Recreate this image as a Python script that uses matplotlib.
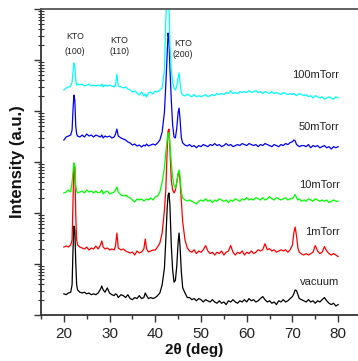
import numpy as np
import matplotlib
matplotlib.use('Agg')
import matplotlib.pyplot as plt
from matplotlib.ticker import LogLocator, NullFormatter, MultipleLocator

plt.rcParams['font.family'] = ['Liberation Sans', 'DejaVu Sans']

# 2theta grid (deg)
two_theta = [20.0, 20.5, 21.0, 21.5, 21.8, 22.0, 22.2, 22.4, 22.6, 22.8, 23.0, 23.5,
             24.0, 24.5, 25.0, 25.5, 26.0, 26.5, 27.0, 27.5, 28.0, 28.3, 28.6, 29.0, 29.5, 30.0,
             30.5, 31.0, 31.3, 31.6, 31.9, 32.5,
             33.0, 33.5, 34.0, 34.5, 35.0, 35.5, 36.0, 36.5, 37.0, 37.5, 37.8, 38.1, 38.5, 39.0,
             39.5, 40.0, 40.5,
             41.0, 41.5, 42.0, 42.3, 42.6, 42.8, 43.0, 43.2, 43.5, 43.8, 44.1, 44.4, 44.7, 45.0,
             45.2, 45.4, 45.7, 46.0, 46.5, 47.0,
             47.5, 48.0, 48.5, 49.0, 49.5, 50.0, 50.5, 51.0, 51.5, 52.0, 52.5, 53.0, 53.5, 54.0,
             54.5, 55.0, 55.5, 56.0, 56.5, 57.0, 57.5, 58.0, 58.5, 59.0, 59.5, 60.0, 60.5, 61.0,
             61.5, 62.0, 62.5, 63.0, 63.5, 64.0, 64.5, 65.0, 65.5, 66.0, 66.5, 67.0, 67.5, 68.0,
             68.5, 69.0, 69.5,
             70.0, 70.3, 70.6, 70.9, 71.2, 71.5, 72.0,
             72.5, 73.0, 73.5, 74.0, 74.5, 75.0, 75.5, 76.0, 76.5, 77.0, 77.5, 78.0, 78.5, 79.0,
             79.5, 80.0]

# intensities (counts, before stacking)
vacuum = [26, 25, 27, 28, 39, 188, 556, 464, 109, 39, 31, 28,
          27, 28, 26, 27, 25, 26, 25, 27, 32, 37, 31, 28, 34, 27, 25, 24, 26, 25, 22, 25,
          24, 22, 25, 21, 20, 22, 21, 24, 21, 22, 27, 24, 21, 22, 21, 22, 24,
          27, 39, 83, 294, 1260, 2250, 2470, 1430, 235, 76, 44, 48, 91, 270, 405, 235, 70, 34, 27, 22,
          22, 20, 21, 19, 21, 20, 18, 20, 19, 18, 20, 18, 17, 19, 17, 18, 16, 19, 18, 20,
          18, 17, 19, 18, 20, 18, 21, 19, 20, 18, 19, 21, 23, 20, 18, 19, 17, 18, 16, 19,
          18, 20, 18, 19, 21,
          23, 26, 31, 30, 25, 21, 20,
          19, 18, 20, 18, 19, 17, 19, 18, 20, 22, 19, 17, 16, 17, 15, 16]

p1mtorr = [21.5, 22.5, 21.5, 23.6, 29.6, 180, 950, 800, 91, 29.6, 23.6, 21.5,
           20.6, 19.7, 21.5, 18.8, 20.6, 19.7, 22.5, 19.7, 23.6, 28.3, 21.5, 19.7, 20.6, 18.8,
           19.7, 18.8, 22.5, 40.5, 20.6, 18.8,
           19.7, 18.0, 17.2, 16.4, 17.2, 15.0, 18.0, 16.4, 17.2, 19.7, 30.9, 19.7, 17.2, 18.0,
           18.8, 18.8, 21.5,
           25.8, 40.5, 114, 282, 1717, 4050, 4420, 1870, 444, 282, 247, 282, 405, 580, 637, 444,
           165, 66, 29.6, 20.6,
           18, 17, 19, 16, 18, 17, 19, 23, 18, 16, 17, 15, 17, 16, 18, 15, 17, 18, 23, 17,
           15, 17, 16, 18, 15, 17, 16, 18, 16, 17, 19, 18, 19, 25, 19, 20, 18, 19, 17, 18,
           19, 18, 19, 17, 19,
           23.6, 40.5, 53, 35, 20.6, 17, 15.7,
           15, 16, 15, 16, 17, 23, 18, 16, 17, 22, 18, 16, 15, 16, 15, 14]

p10mtorr = [24.7, 25.8, 28.3, 25.8, 40.5, 64, 95, 84, 35, 27, 24.7, 25.8,
            27, 24.7, 28.3, 25.8, 27, 24.7, 27, 24.7, 25.8, 28.3, 23.6, 25.8, 27, 23.6, 24.7,
            25.8, 28.3, 32.3, 25.8, 22.5,
            21.5, 22.5, 20.6, 19.7, 18, 16.4, 18.8, 18, 18.8, 17.2, 18, 18.8, 18, 19.7, 18,
            20.6, 21.5,
            25.8, 40.5, 76, 157, 270, 370, 370, 235, 95, 51, 34, 31, 39, 61, 70, 53, 25.8, 19.7,
            18, 17.2,
            18, 17, 16, 15, 17, 18, 17, 19, 17, 18, 16, 18, 17, 19, 18, 17, 18, 16, 18, 17,
            19, 18, 17, 19, 18, 20, 18, 19, 18, 20, 19, 18, 20, 18, 19, 21, 19, 18, 20, 19,
            18, 19, 20, 18, 19,
            19, 21, 23, 20, 18, 19, 17,
            18, 17, 19, 18, 17, 19, 18, 17, 18, 17, 18, 16, 17, 18, 17, 17]

p50mtorr = [27, 30.9, 32.3, 33.8, 42.4, 105, 205, 164, 51, 35.4, 32.3, 30.9,
            33.8, 30.9, 35.4, 32.3, 33.8, 30.9, 33.8, 32.3, 30.9, 33.8, 29.6, 32.3, 30.9, 32.3,
            29.6, 30.9, 35.4, 44.3, 32.3, 29.6,
            28.3, 27, 24.7, 23.6, 21.5, 22.5, 20.6, 21.5, 19.7, 21.5, 20.6, 22.5, 20.6, 21.5,
            22.5, 21.5, 23.6,
            27, 38.7, 95, 324, 1260, 3380, 2470, 696, 164, 53, 30.9, 29.6, 46.4, 95, 114, 73,
            29.6, 23.6, 21.5, 20.6,
            22, 20, 21, 19, 21, 20, 22, 21, 20, 22, 21, 23, 21, 22, 20, 21, 23, 21, 22, 20,
            21, 22, 21, 23, 22, 21, 23, 22, 21, 22, 20, 22, 21, 23, 22, 21, 20, 22, 21, 20,
            22, 21, 23, 22, 24,
            25, 27, 26, 22, 21, 20, 21,
            21, 20, 22, 19, 21, 20, 21, 19, 20, 21, 19, 20, 18, 20, 19, 20]

p100mtorr = [25.8, 28.3, 29.6, 30.9, 37, 58, 87, 76, 40.5, 32.3, 33.8, 32.3,
             33.8, 30.9, 32.3, 33.8, 30.9, 32.3, 30.9, 32.3, 30.9, 33.8, 29.6, 32.3, 30.9, 32.3,
             30.9, 29.6, 32.3, 53, 30.9, 29.6,
             28.3, 29.6, 27, 25.8, 23.6, 24.7, 22.5, 20.6, 23.6, 19.7, 21.5, 18.8, 22.5, 23.6,
             21.5, 24.7, 23.6,
             25.8, 28.3, 64, 610, 2500, 5200, 1300, 197, 64, 37, 28.3, 25.8, 30.9, 44.3, 56, 37,
             22.5, 20.6, 19.7, 21.5,
             20, 19, 21, 19, 20, 19, 20, 21, 19, 20, 21, 20, 22, 21, 22, 21, 23, 22, 25, 22,
             23, 22, 24, 23, 24, 23, 25, 23, 24, 25, 23, 24, 22, 24, 23, 22, 24, 22, 23, 22,
             21, 23, 22, 21, 22,
             21, 22, 21, 20, 21, 22, 21,
             20, 21, 19, 20, 18, 20, 19, 18, 19, 17, 18, 19, 18, 17, 19, 18]

series = [vacuum, p1mtorr, p10mtorr, p50mtorr, p100mtorr]
names = ['vacuum', '1mTorr', '10mTorr', '50mTorr', '100mTorr']
stack = [1, 10, 100, 1000, 10000]
colors = ['black', '#ff0000', '#00ff00', '#0000ff', '#00ffff']
name_y = [44, 4.2e2, 3.5e3, 4.9e4, 5.1e5]

kto_x = [22.4, 32.1, 46.1]
kto_hkl = ['(100)', '(110)', '(200)']
kto_y = [2.95e6, 2.36e6, 2.15e6]
hkl_y = [1.5e6, 1.44e6, 1.31e6]

fig = plt.figure(figsize=(3.58, 3.61), dpi=100)
ax = fig.add_axes([41 / 358, 46 / 361, 320 / 358, 306 / 361])

x = np.array(two_theta)
for s, k, c in zip(series, stack, colors):
    assert len(s) == len(x)
    ax.plot(x, np.array(s) * k, color=c, lw=0.9)

for n, yy in zip(names, name_y):
    ax.text(80.3, yy, n, ha='right', va='center', fontsize=8, color='#222222')
for xx, h, y1, y2 in zip(kto_x, kto_hkl, kto_y, hkl_y):
    ax.text(xx, y1, 'KTO', ha='center', va='center', fontsize=6.3, color='#222222')
    ax.text(xx, y2, h, ha='center', va='center', fontsize=6.3, color='#222222')

ax.set_yscale('log')
ax.set_xlim(15, 85)
ax.set_ylim(10, 1e7)
ax.xaxis.set_major_locator(MultipleLocator(10))
ax.xaxis.set_minor_locator(MultipleLocator(5))
ax.yaxis.set_major_locator(LogLocator(base=10))
ax.yaxis.set_minor_locator(LogLocator(base=10, subs=np.arange(2, 10)))
ax.yaxis.set_major_formatter(NullFormatter())
ax.yaxis.set_minor_formatter(NullFormatter())

ax.tick_params(axis='x', which='major', direction='out', length=5, width=1,
               labelsize=11, colors='#333333', labelcolor='#222222', pad=4)
ax.tick_params(axis='x', which='minor', direction='out', length=3, width=1, colors='#333333')
ax.tick_params(axis='y', which='major', direction='out', length=5, width=1, colors='#333333')
ax.tick_params(axis='y', which='minor', direction='inout', length=4, width=0.8, colors='#333333')

for side in ['left', 'bottom', 'top']:
    ax.spines[side].set_linewidth(1.3)
    ax.spines[side].set_color('#333333')
ax.spines['top'].set_color('#555555')

ax.set_xlabel('2θ (deg)', fontsize=11, fontweight='bold', color='#111111')
ax.set_ylabel('Intensity (a.u.)', fontsize=12, fontweight='bold', color='#111111')
ax.xaxis.set_label_coords(0.478, -0.092)
ax.yaxis.set_label_coords(-0.05, 0.5)

fig.savefig('out.png', dpi=100)
